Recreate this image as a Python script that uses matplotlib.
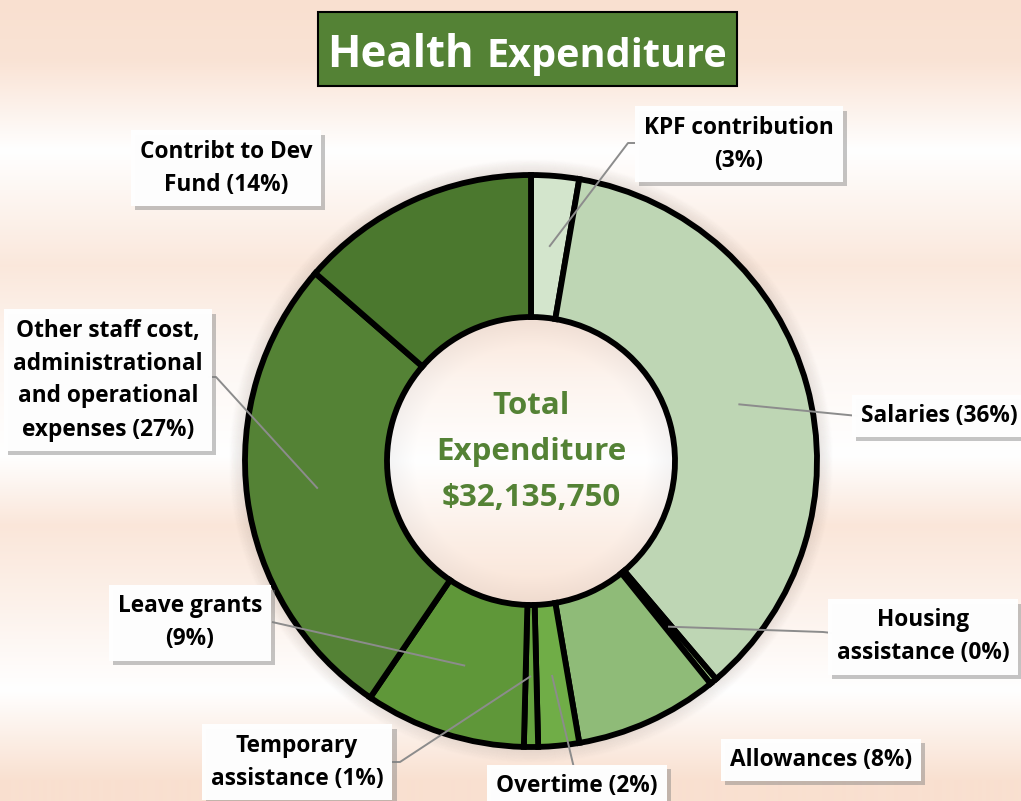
import numpy as np
import matplotlib
matplotlib.use("Agg")
import matplotlib.pyplot as plt
from matplotlib.patches import Rectangle, Circle
from matplotlib import patheffects

plt.rcParams['font.family'] = ['Open Sans', 'DejaVu Sans']
plt.rcParams['font.weight'] = 'bold'

# data (share of total, percent)
categories = ["KPF contribution", "Salaries", "Housing assistance", "Allowances",
              "Overtime", "Temporary assistance", "Leave grants",
              "Other staff cost, administrational and operational expenses",
              "Contribt to Dev Fund"]
shares = [2.7, 36.1, 0.4, 8.1, 2.3, 0.8, 9.1, 26.9, 13.6]
label_text = ["KPF contribution\n({}%)", "Salaries ({}%)", "Housing\nassistance ({}%)",
              "Allowances ({}%)", "Overtime ({}%)", "Temporary\nassistance ({}%)",
              "Leave grants\n({}%)",
              "Other staff cost,\nadministrational\nand operational\nexpenses ({}%)",
              "Contribt to Dev\nFund ({}%)"]
total_text = "Total\nExpenditure\n$32,135,750"
title_a, title_b = "Health", "Expenditure"

colors = ["#d3e5cc", "#bed6b4", "#a9d18e", "#8fbb78", "#70ad47",
          "#66a33f", "#5f9739", "#548235", "#4b782e"]
green = "#548235"
peach = np.array([249, 224, 208]) / 255.0

W, H = 1021, 801
fig = plt.figure(figsize=(W / 100, H / 100), dpi=100)
ax = fig.add_axes([0, 0, 1, 1])


def Y(y):
    # image row -> data y
    return H - y


# background: horizontal soft bands of peach and white
stops_y = [0, 60, 150, 265, 360, 455, 525, 600, 690, 780, 801]
stops_w = [1.0, 0.9, 0.0, 0.75, 0.25, 0.0, 0.8, 0.45, 0.0, 1.0, 1.0]
wy = np.interp(np.arange(H), stops_y, stops_w)
bg = np.ones((H, W, 3)) * (1 - wy[:, None, None]) + peach[None, None, :] * wy[:, None, None]
ax.imshow(bg, extent=(0, W, 0, H), origin="upper", zorder=0, aspect="auto")

cx, cy = 531, Y(461)
r_out, r_in = 286, 144

# soft grey glow round the ring
for k in range(14):
    ax.add_patch(Circle((cx, cy), r_out + 2 + k, facecolor="none",
                        edgecolor="#9a8a80", linewidth=1.6, alpha=0.10 * (1 - k / 14), zorder=1))

wedges, _ = ax.pie(shares, colors=colors, startangle=90, counterclock=False,
                   radius=r_out, center=(cx, cy),
                   wedgeprops=dict(width=r_out - r_in, edgecolor="black", linewidth=4.2))
for w in wedges:
    w.set_zorder(3)

# hole shading
hn = 300
yy, xx = np.mgrid[-1:1:hn * 1j, -1:1:hn * 1j]
hw = np.interp(yy, [-1, -0.55, 0.0, 0.5, 1], [0.8, 0.35, 0.0, 0.5, 0.9])
hole = np.ones((hn, hn, 3)) * (1 - hw[..., None]) + peach * hw[..., None]
rr = np.sqrt(xx ** 2 + yy ** 2)
edge = np.clip((rr - 0.8) / 0.2, 0, 1) * 0.10
hole = hole * (1 - edge[..., None]) + np.array([0.55, 0.55, 0.58]) * edge[..., None]
im = ax.imshow(hole, extent=(cx - r_in, cx + r_in, cy - r_in, cy + r_in),
               origin="upper", zorder=2, aspect="auto")
im.set_clip_path(Circle((cx, cy), r_in, transform=ax.transData))

ax.text(cx, Y(452), total_text, ha="center", va="center", fontsize=22.5,
        color=green, fontweight="bold", linespacing=1.7, zorder=5)

# title box
ax.add_patch(Rectangle((318, Y(86)), 419, 74, facecolor=green, edgecolor="black",
                       linewidth=1.5, zorder=5))
ax.text(327, Y(67), title_a, ha="left", va="baseline", fontsize=31.5, color="white",
        fontweight="bold", zorder=6)
ax.text(727, Y(67), title_b, ha="right", va="baseline", fontsize=28.5, color="white",
        fontweight="bold", zorder=6)

# label boxes: text anchor, leader start, leader elbow (image coords)
label_pos = [(739, 144), (1018, 416), (923, 637), (821, 760), (577, 786),
             (297, 762), (190, 623), (108, 380), (226, 168)]
label_ha = ["center", "right", "center", "center", "center", "center", "center", "center", "center"]
leader_start = [(640, 143), (858, 416), (832, 633), None, (574, 768),
                (390, 762), (272, 622), (208, 377), None]
leader_elbow = [(628, 143), (848, 415), (823, 632), None, None,
                (400, 762), None, (216, 377), None]

pct = np.round(np.array(shares) / sum(shares) * 100).astype(int)
mid_r = (r_out + r_in) / 2
for i, w in enumerate(wedges):
    ang = np.deg2rad((w.theta1 + w.theta2) / 2)
    ax_, ay_ = cx + mid_r * np.cos(ang), cy + mid_r * np.sin(ang)
    if leader_start[i] is not None:
        pts = [leader_start[i]]
        if leader_elbow[i] is not None:
            pts.append(leader_elbow[i])
        xs = [p[0] for p in pts] + [ax_]
        ys = [Y(p[1]) for p in pts] + [ay_]
        ax.plot(xs, ys, color="#8c8c8c", linewidth=1.4, zorder=4, solid_capstyle="butt")
    lx, ly = label_pos[i]
    t = ax.text(lx, Y(ly), label_text[i].format(pct[i]), ha=label_ha[i], va="center",
                fontsize=16.3, fontweight="bold", color="black", linespacing=1.5,
                multialignment="center", zorder=7,
                bbox=dict(boxstyle="square,pad=0.4", facecolor="white", edgecolor="none", alpha=0.85))
    t.get_bbox_patch().set_path_effects([
        patheffects.withSimplePatchShadow(offset=(3, -3), shadow_rgbFace="#7f7f7f", alpha=0.45),
        patheffects.Normal()])

ax.set_xlim(0, W)
ax.set_ylim(0, H)
ax.set_aspect("auto")
ax.axis("off")

fig.savefig("out.png", dpi=100)
